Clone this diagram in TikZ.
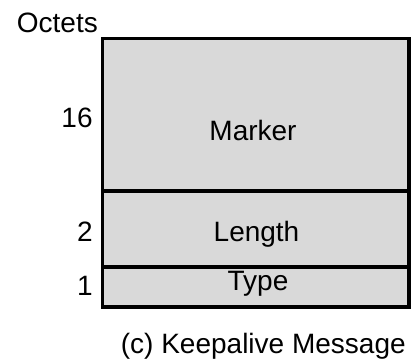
\documentclass[tikz,border=0pt]{standalone}
\usepackage{fontspec}
\setmainfont{Liberation Sans}
\usepackage{tikz}

\definecolor{fieldgray}{RGB}{217,217,217}

\begin{document}
\begin{tikzpicture}
		[
			x=0.5pt, y=-0.5pt,
			field/.style = {rectangle, draw=black, line width=1.7pt, fill=fieldgray,
				inner sep=0pt, minimum width=153.25pt},
			txt/.style = {anchor=base, inner sep=0pt, font=\fontsize{14}{17}\selectfont},
			num/.style = {txt, anchor=base east},
		]

		\useasboundingbox (0,0) rectangle (415,361);

		% message fields
		\node[field, minimum height=76.25pt] (marker) 	at ( 255.75, 114.75 ) {};
		\node[field, minimum height=38pt] (length) 	at ( 255.75, 229.0 ) {};
		\node[field, minimum height=20pt] (type) 	at ( 255.75, 287.0 ) {};

		% field names
		\node[txt] (markername) 	at ( 253.0, 140.0 ) {Marker};
		\node[txt] (lengthname) 	at ( 256.5, 241.5 ) {Length};
		\node[txt] (typename) 	at ( 258.0, 290.5 ) {Type};

		% sizes in octets
		\node[txt, anchor=base west] (octets) 	at ( 16.5, 32.0 ) {Octets};
		\node[num] (markersize) 	at ( 93.0, 127.0 ) {16};
		\node[num] (lengthsize) 	at ( 93.0, 241.0 ) {2};
		\node[num] (typesize) 	at ( 93.0, 295.0 ) {1};

		\node[txt, anchor=base west] (caption) 	at ( 120.5, 353.0 ) {(c) Keepalive Message};

		\end{tikzpicture}
\end{document}
